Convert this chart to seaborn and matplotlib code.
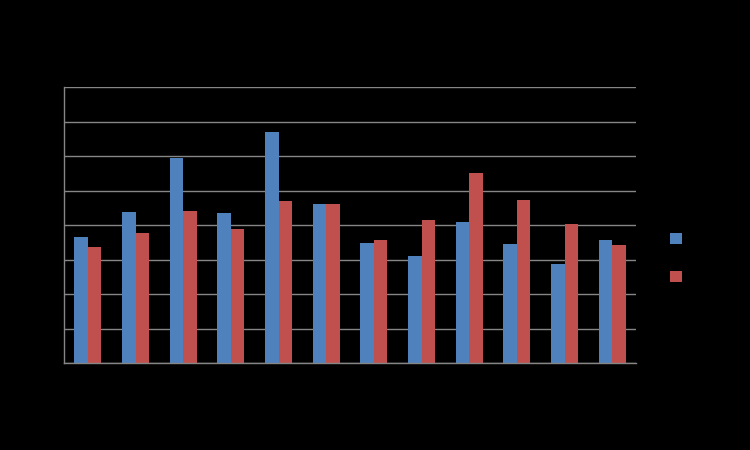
import matplotlib
matplotlib.use("Agg")
import matplotlib.pyplot as plt
import seaborn as sns
import pandas as pd

categories = ["1", "2", "3", "4", "5", "6", "7", "8", "9", "10", "11", "12"]
series_a = [3.65, 4.38, 5.94, 4.35, 6.70, 4.61, 3.48, 3.10, 4.09, 3.45, 2.87, 3.57]
series_b = [3.36, 3.77, 4.41, 3.88, 4.70, 4.61, 3.57, 4.14, 5.51, 4.72, 4.03, 3.42]
series_names = ["Series1", "Series2"]
y_ticks = [0, 1, 2, 3, 4, 5, 6, 7, 8]

df = pd.DataFrame({
    "category": categories * 2,
    "value": series_a + series_b,
    "series": [series_names[0]] * len(categories) + [series_names[1]] * len(categories),
})

sns.set_theme(style="white")
fig = plt.figure(figsize=(7.5, 4.5), dpi=100, facecolor="black")
ax = fig.add_axes([64 / 750, 87 / 450, 572 / 750, 276 / 450])
ax.set_facecolor("black")

sns.barplot(data=df, x="category", y="value", hue="series", order=categories,
            palette=["#4F81BD", "#C0504D"], width=0.56, saturation=1,
            edgecolor="none", ax=ax, legend=True)

ax.set_ylim(0, 8)
ax.set_xlim(-0.5, len(categories) - 0.5)
ax.set_yticks(y_ticks)
ax.yaxis.grid(True, color="#868686", linewidth=1)
ax.set_axisbelow(True)
for side in ["top", "right"]:
    ax.spines[side].set_visible(False)
for side in ["left", "bottom"]:
    ax.spines[side].set_color("#868686")
    ax.spines[side].set_linewidth(1)
ax.tick_params(axis="both", length=0, colors="black", labelcolor="black")
ax.set_xlabel("")
ax.set_ylabel("")

leg = ax.legend(loc="center left", bbox_to_anchor=(1.039, 0.38), frameon=False,
                fontsize=9, handlelength=0.96, handleheight=0.96,
                labelspacing=2.0, handletextpad=0.6, labelcolor="black")

fig.savefig("out.png", dpi=100, facecolor="black")
